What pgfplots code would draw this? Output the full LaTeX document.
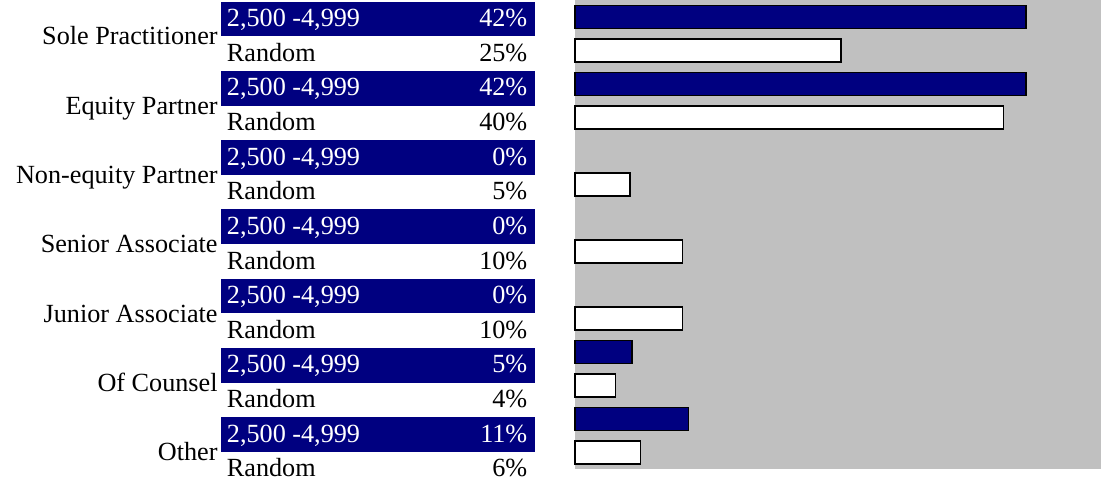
\documentclass[border=0pt]{standalone}
\usepackage{fontspec}
\setmainfont{Liberation Serif}
\usepackage{pgfplots}
\pgfplotsset{compat=1.18}
\definecolor{navybar}{RGB}{0,0,128}
\definecolor{plotgray}{RGB}{192,192,192}

% rows: 0 = top. Even rows: 2,500 -4,999 ; odd rows: Random
\begin{document}
\begin{tikzpicture}[x=1pt,y=1pt]
\path[use as bounding box] (0pt,0pt) rectangle (1101pt,482pt);

% ---- left table ----
\foreach \k/\lab/\val in {0/{2,500 -4,999}/42, 1/Random/25, 2/{2,500 -4,999}/42, 3/Random/40,
  4/{2,500 -4,999}/0, 5/Random/5, 6/{2,500 -4,999}/0, 7/Random/10,
  8/{2,500 -4,999}/0, 9/Random/10, 10/{2,500 -4,999}/5, 11/Random/4,
  12/{2,500 -4,999}/11, 13/Random/6}{
  \pgfmathsetmacro{\ytop}{480.3-34.63*\k}
  \pgfmathsetmacro{\ybot}{480.3-34.63*\k-34.63}
  \pgfmathsetmacro{\ybase}{455.3-34.63*\k}
  \ifodd\k
    \node[anchor=base west,inner sep=0pt,font=\fontsize{26.2}{30}\selectfont] at (226.7pt,\ybase pt) {\lab};
    \node[anchor=base east,inner sep=0pt,font=\fontsize{26.2}{30}\selectfont] at (527.5pt,\ybase pt) {\val\%};
  \else
    \fill[navybar] (220.7pt,\ytop pt) rectangle (535pt,\ybot pt);
    \node[anchor=base west,inner sep=0pt,text=white,font=\fontsize{26.2}{30}\selectfont] at (226.7pt,\ybase pt) {\lab};
    \node[anchor=base east,inner sep=0pt,text=white,font=\fontsize{26.2}{30}\selectfont] at (527.5pt,\ybase pt) {\val\%};
  \fi
}
\foreach \j/\cat in {0/Sole Practitioner, 1/Equity Partner, 2/Non-equity Partner,
  3/Senior Associate, 4/Junior Associate, 5/Of Counsel, 6/Other}{
  \pgfmathsetmacro{\yc}{437-69.26*\j}
  \node[anchor=base east,inner sep=0pt,font=\fontsize{26.2}{30}\selectfont] at (217.8pt,\yc pt) {\cat};
}

% ---- bar chart ----
\begin{axis}[
  at={(575pt,13pt)}, anchor=south west,
  scale only axis, width=526pt, height=469pt,
  xmin=0, xmax=49, ymin=-0.5, ymax=13.5, y dir=reverse,
  axis line style={draw=none}, xtick=\empty, ytick=\empty,
  axis background/.style={fill=plotgray},
  xbar, bar shift=0pt, bar width=23pt,
  clip=false,
  x filter/.expression={x<=0 ? nan : x},
  unbounded coords=discard,
]
\addplot[draw=black, line width=1.5pt, fill=navybar] coordinates {
  (42,0) (42,2) (0,4) (0,6) (0,8) (5.3,10) (10.55,12)};
\addplot[draw=black, line width=1.5pt, fill=white] coordinates {
  (24.8,1) (39.9,3) (5.1,5) (10,7) (10,9) (3.75,11) (6.1,13)};
\end{axis}
\end{tikzpicture}
\end{document}
